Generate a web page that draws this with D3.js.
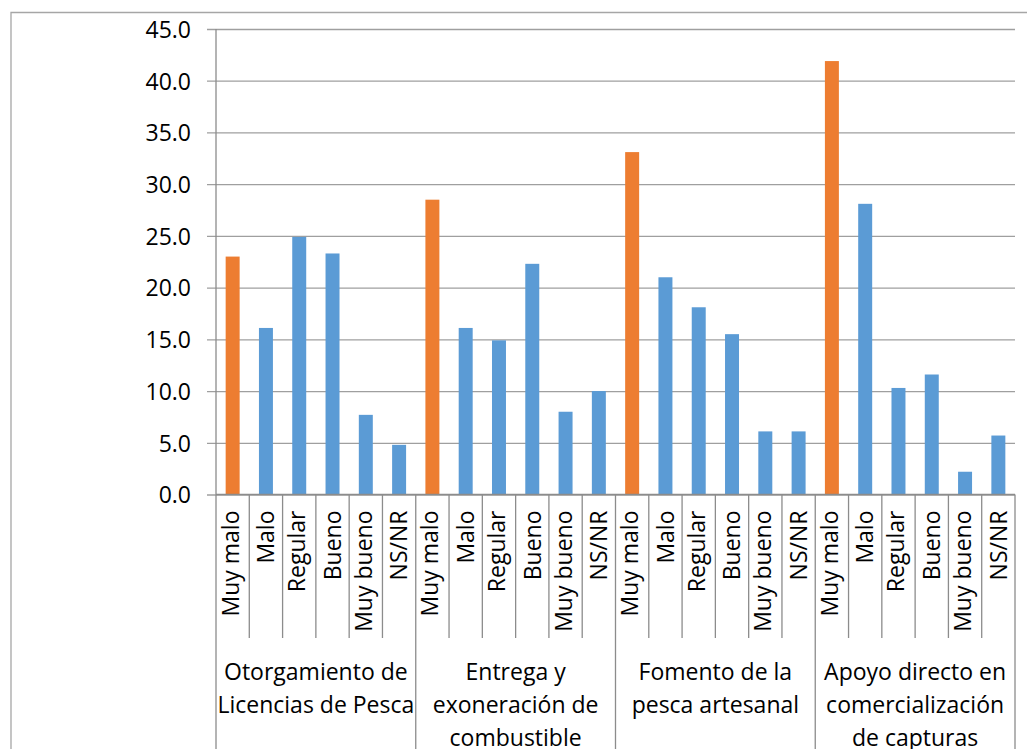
<!DOCTYPE html>
<html>
<head>
<meta charset="utf-8">
<script src="https://cdn.jsdelivr.net/npm/d3@7"></script>
<style>
  html, body { margin: 0; padding: 0; background: #fff; }
  svg { display: block; }
  text { font-family: "Open Sans", Lato, sans-serif; fill: #000; }
</style>
</head>
<body>
<svg id="chart" width="1027" height="749"></svg>
<script>
// Survey ratings (%) for four fisheries support services
const groups = [
  ["Otorgamiento de", "Licencias de Pesca"],
  ["Entrega y", "exoneración de", "combustible"],
  ["Fomento de la", "pesca artesanal"],
  ["Apoyo directo en", "comercialización", "de capturas"]
];
const ratings = ["Muy malo", "Malo", "Regular", "Bueno", "Muy bueno", "NS/NR"];
const licencias    = [23.0, 16.1, 24.9, 23.3, 7.7, 4.8];
const combustible  = [28.5, 16.1, 14.9, 22.3, 8.0, 10.0];
const fomento      = [33.1, 21.0, 18.1, 15.5, 6.1, 6.1];
const apoyo        = [41.9, 28.1, 10.3, 11.6, 2.2, 5.7];
const yTicks = [0, 5, 10, 15, 20, 25, 30, 35, 40, 45];

const seriesByGroup = [licencias, combustible, fomento, apoyo];
const rows = [];
seriesByGroup.forEach((vals, g) => {
  vals.forEach((v, i) => rows.push({ key: g + "|" + i, group: g, rating: ratings[i], idx: i, value: v }));
});

const svg = d3.select("#chart");
const plotLeft = 216, plotRight = 1015, plotTop = 29, plotBottom = 494.5;
const fontSize = 23;

const x = d3.scaleBand()
  .domain(rows.map(d => d.key))
  .range([plotLeft, plotRight])
  .paddingInner(0.58)
  .paddingOuter(0.29);
const step = x.step();

const y = d3.scaleLinear().domain([0, 45]).range([plotBottom, plotTop]);

// outer chart frame
svg.append("path")
  .attr("d", `M11,760 V12.5 H1040`)
  .attr("fill", "none")
  .attr("stroke", "#a6a6a6")
  .attr("stroke-width", 1.3);

// horizontal gridlines with tick marks
const yAxis = d3.axisLeft(y)
  .tickValues(yTicks)
  .tickSize(-(plotRight - plotLeft))
  .tickFormat(d3.format(".1f"));
const gy = svg.append("g").attr("transform", `translate(${plotLeft},0)`).call(yAxis);
gy.select(".domain").remove();
gy.selectAll(".tick line")
  .attr("x1", -9)
  .attr("stroke", "#9f9f9f")
  .attr("stroke-width", 1.3);
gy.selectAll(".tick text")
  .attr("x", -25)
  .attr("dy", "0.36em")
  .attr("font-size", fontSize)
  .attr("font-family", "'Open Sans', sans-serif")
  .attr("fill", "#000");

// bars
svg.append("g").selectAll("rect")
  .data(rows)
  .join("rect")
  .attr("x", d => x(d.key))
  .attr("width", x.bandwidth())
  .attr("y", d => y(d.value))
  .attr("height", d => y(0) - y(d.value))
  .attr("fill", d => d.idx === 0 ? "#ed7d31" : "#5b9bd5");

// y axis line
svg.append("line")
  .attr("x1", plotLeft).attr("x2", plotLeft)
  .attr("y1", plotTop).attr("y2", plotBottom)
  .attr("stroke", "#8c8c8c").attr("stroke-width", 1.3);

// x axis line
svg.append("line")
  .attr("x1", plotLeft).attr("x2", plotRight)
  .attr("y1", plotBottom).attr("y2", plotBottom)
  .attr("stroke", "#8c8c8c").attr("stroke-width", 1.3);

// category separators (short) and group separators (long)
const sepX = d3.range(rows.length + 1).map(i => plotLeft + i * step);
svg.append("g").selectAll("line")
  .data(sepX)
  .join("line")
  .attr("x1", d => d).attr("x2", d => d)
  .attr("y1", plotBottom)
  .attr("y2", (d, i) => i % ratings.length === 0 ? 760 : 638)
  .attr("stroke", "#8c8c8c")
  .attr("stroke-width", 1.3);

// rotated rating labels, ink centred on each slot
const hasDescender = s => /[gjpqy]/.test(s);
svg.append("g").selectAll("text")
  .data(rows)
  .join("text")
  .attr("transform", d => {
    const cx = x(d.key) + x.bandwidth() / 2;
    const shift = (hasDescender(d.rating) ? 0.26 : 0.36) * fontSize;
    return `translate(${cx + shift},${plotBottom + 16}) rotate(-90)`;
  })
  .attr("text-anchor", "end")
  .attr("font-size", fontSize)
  .text(d => d.rating);

// group labels
groups.forEach((lines, g) => {
  const cx = plotLeft + (g * ratings.length + ratings.length / 2) * step;
  const t = svg.append("text")
    .attr("text-anchor", "middle")
    .attr("font-size", fontSize);
  lines.forEach((ln, i) => {
    t.append("tspan").attr("x", cx).attr("y", 680 + i * 33).text(ln);
  });
});
</script>
</body>
</html>
